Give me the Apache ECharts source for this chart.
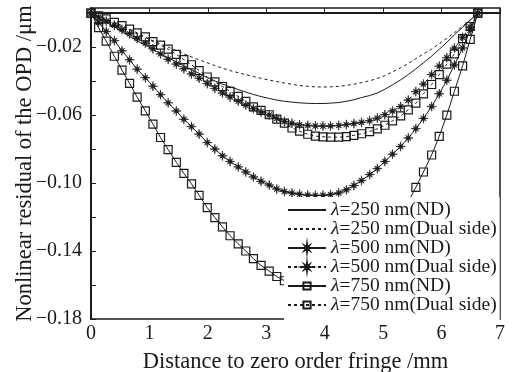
<!DOCTYPE html>
<html>
<head>
<meta charset="utf-8">
<script src="https://cdn.jsdelivr.net/npm/echarts@6/dist/echarts.min.js"></script>
<style>html,body{margin:0;padding:0;background:#fff}#c{width:522px;height:372px}</style>
</head>
<body>
<div id="c"></div>
<script>
// Distance to zero order fringe (mm)
var xs = [0,0.13,0.26,0.40,0.53,0.66,0.79,0.93,1.06,1.19,1.32,1.46,1.59,1.72,1.85,1.99,2.12,2.25,2.38,2.52,2.65,2.78,2.91,3.05,3.18,3.31,3.44,3.57,3.71,3.84,3.97,4.10,4.24,4.37,4.50,4.63,4.77,4.90,5.03,5.16,5.30,5.43,5.56,5.69,5.83,5.96,6.09,6.22,6.36,6.49,6.62];

var nd250 = [0,-0.0028,-0.0054,-0.0081,-0.0110,-0.0137,-0.0164,-0.0189,-0.0214,-0.0239,-0.0263,-0.0287,-0.0311,-0.0333,-0.0355,-0.0379,-0.0399,-0.0418,-0.0434,-0.0450,-0.0465,-0.0479,-0.0491,-0.0502,-0.0512,-0.0519,-0.0524,-0.0528,-0.0531,-0.0532,-0.0532,-0.0530,-0.0526,-0.0519,-0.0510,-0.0497,-0.0485,-0.0470,-0.0448,-0.0422,-0.0393,-0.0362,-0.0328,-0.0292,-0.0253,-0.0213,-0.0172,-0.0128,-0.0084,-0.0042,0];

var dual250 = [0,-0.0020,-0.0040,-0.0062,-0.0082,-0.0102,-0.0122,-0.0143,-0.0162,-0.0181,-0.0200,-0.0220,-0.0240,-0.0258,-0.0275,-0.0292,-0.0309,-0.0324,-0.0338,-0.0351,-0.0362,-0.0373,-0.0384,-0.0394,-0.0403,-0.0411,-0.0419,-0.0426,-0.0431,-0.0434,-0.0435,-0.0434,-0.0431,-0.0426,-0.0418,-0.0409,-0.0398,-0.0385,-0.0368,-0.0346,-0.0322,-0.0296,-0.0268,-0.0240,-0.0212,-0.0180,-0.0148,-0.0115,-0.0078,-0.0040,0];

var nd500 = [0,-0.0055,-0.0108,-0.0162,-0.0222,-0.0275,-0.0330,-0.0380,-0.0430,-0.0480,-0.0528,-0.0576,-0.0625,-0.0668,-0.0712,-0.0762,-0.0800,-0.0840,-0.0873,-0.0905,-0.0935,-0.0964,-0.0990,-0.1012,-0.1035,-0.1050,-0.1059,-0.1066,-0.1071,-0.1073,-0.1072,-0.1068,-0.1058,-0.1040,-0.1015,-0.0985,-0.0950,-0.0915,-0.0873,-0.0830,-0.0785,-0.0735,-0.0680,-0.0620,-0.0550,-0.0475,-0.0395,-0.0305,-0.0205,-0.0100,0];

var dual500 = [0,-0.0023,-0.0047,-0.0072,-0.0097,-0.0122,-0.0148,-0.0176,-0.0210,-0.0240,-0.0271,-0.0300,-0.0328,-0.0358,-0.0383,-0.0415,-0.0443,-0.0470,-0.0494,-0.0518,-0.0541,-0.0562,-0.0582,-0.0600,-0.0620,-0.0638,-0.0648,-0.0657,-0.0661,-0.0664,-0.0665,-0.0664,-0.0661,-0.0656,-0.0650,-0.0643,-0.0633,-0.0618,-0.0598,-0.0576,-0.0550,-0.0512,-0.0462,-0.0418,-0.0362,-0.0312,-0.0262,-0.0206,-0.0143,-0.0082,0];

var nd750 = [0,-0.0086,-0.0165,-0.0254,-0.0335,-0.0413,-0.0495,-0.0575,-0.0653,-0.0732,-0.0803,-0.0878,-0.0943,-0.1005,-0.1072,-0.1145,-0.1203,-0.1258,-0.1310,-0.1358,-0.1400,-0.1445,-0.1485,-0.1518,-0.1550,-0.1575,-0.1590,-0.1600,-0.1607,-0.1610,-0.1608,-0.1602,-0.1587,-0.1560,-0.1523,-0.1478,-0.1425,-0.1372,-0.1310,-0.1245,-0.1178,-0.1110,-0.1025,-0.0935,-0.0835,-0.0725,-0.0600,-0.0460,-0.0310,-0.0155,0];

var dual750 = [0,-0.0016,-0.0034,-0.0054,-0.0074,-0.0094,-0.0116,-0.0140,-0.0168,-0.0189,-0.0212,-0.0243,-0.0274,-0.0304,-0.0338,-0.0376,-0.0405,-0.0432,-0.0461,-0.0490,-0.0520,-0.0552,-0.0572,-0.0598,-0.0624,-0.0648,-0.0676,-0.0695,-0.0713,-0.0724,-0.0728,-0.0730,-0.0730,-0.0727,-0.0719,-0.0710,-0.0697,-0.0681,-0.0660,-0.0634,-0.0605,-0.0569,-0.0530,-0.0475,-0.0420,-0.0362,-0.0300,-0.0240,-0.0150,-0.0079,0];

var names = ['λ=250 nm(ND)','λ=250 nm(Dual side)','λ=500 nm(ND)','λ=500 nm(Dual side)','λ=750 nm(ND)','λ=750 nm(Dual side)'];
var yLabelTicks = [-0.18,-0.14,-0.10,-0.06,-0.02];
var xTicks = [0,1,2,3,4,5,6,7];

var FONT = 'Liberation Serif';
var INK = '#1a1a1a';
var STAR = 'path://M100,50L63,55L78,78L55,63L50,100L45,63L22,78L37,55L0,50L37,45L22,22L45,37L50,0L55,37L78,22L63,45Z';

function pairs(ys){ return xs.map(function(x,i){ return [x, ys[i]]; }); }

function mk(name, ys, dashed, marker){
  var s = {
    name: name, type: 'line', data: pairs(ys),
    lineStyle: { color: INK, width: 1, type: dashed ? [3,3] : 'solid' },
    silent: true
  };
  if (marker === 'star') {
    s.symbol = STAR; s.symbolSize = 9.5; s.showSymbol = true;
    s.itemStyle = { color: INK, borderColor: INK, borderWidth: 0.6 };
  } else if (marker === 'square') {
    s.symbol = 'rect'; s.symbolSize = 8; s.showSymbol = true;
    s.itemStyle = { color: 'rgba(255,255,255,0)', borderColor: INK, borderWidth: 1.2 };
  } else {
    s.symbol = 'circle'; s.showSymbol = false;
    s.itemStyle = { color: 'rgba(0,0,0,0)', borderWidth: 0 };
  }
  return s;
}

var chart = echarts.init(document.getElementById('c'), null, {renderer: 'canvas'});
chart.setOption({
  animation: false,
  backgroundColor: '#fff',
  grid: { left: 91, right: 22, top: 8, bottom: 53, containLabel: false, outerBoundsMode: 'none',
    show: true, borderColor: INK, borderWidth: 1.5, backgroundColor: 'transparent' },
  xAxis: {
    type: 'value', min: 0, max: 7, interval: 1,
    name: 'Distance to zero order fringe /mm', nameLocation: 'middle', nameGap: 32,
    nameTextStyle: { fontFamily: FONT, fontSize: 22.5, color: INK },
    axisLine: { lineStyle: { color: INK, width: 2 } },
    axisTick: { inside: true, length: 5, lineStyle: { color: INK, width: 1 } },
    axisLabel: { fontFamily: FONT, fontSize: 20, color: INK, margin: 5,
      formatter: function(v){ return xTicks.indexOf(v) >= 0 ? String(v) : ''; } },
    splitLine: { show: false }
  },
  yAxis: {
    type: 'value', min: -0.18, max: 0.003, interval: 0.02,
    name: 'Nonlinear residual of the OPD /μm', nameLocation: 'middle', nameGap: 54,
    nameMoveOverlap: false,
    nameTextStyle: { fontFamily: FONT, fontSize: 22.5, color: INK },
    axisLine: { lineStyle: { color: INK, width: 2 } },
    axisTick: { inside: true, length: 5, lineStyle: { color: INK, width: 1 } },
    axisLabel: { fontFamily: FONT, fontSize: 20, color: INK, margin: 9,
      formatter: function(v){
        for (var i = 0; i < yLabelTicks.length; i++) {
          if (Math.abs(v - yLabelTicks[i]) < 1e-6) return '\u2212' + Math.abs(v).toFixed(2);
        }
        return '';
      } },
    splitLine: { show: false }
  },
  legend: {
    orient: 'vertical', left: 284, top: 197,
    padding: [3, 3, 5, 3],
    backgroundColor: '#fff',
    itemWidth: 38, itemHeight: 9, itemGap: -1.0, itemTextGap: 2,
    selectedMode: false,
    data: names,
    formatter: function(n){ return '{i|λ}' + n.slice(1); },
    textStyle: { fontFamily: FONT, fontSize: 19.5, color: INK,
      rich: { i: { fontFamily: FONT, fontStyle: 'italic', fontSize: 19.5, color: INK } } }
  },
  series: [
    mk(names[0], nd250, false, null),
    mk(names[1], dual250, true, null),
    mk(names[2], nd500, false, 'star'),
    mk(names[3], dual500, true, 'star'),
    mk(names[4], nd750, false, 'square'),
    mk(names[5], dual750, true, 'square')
  ]
});
</script>
</body>
</html>
